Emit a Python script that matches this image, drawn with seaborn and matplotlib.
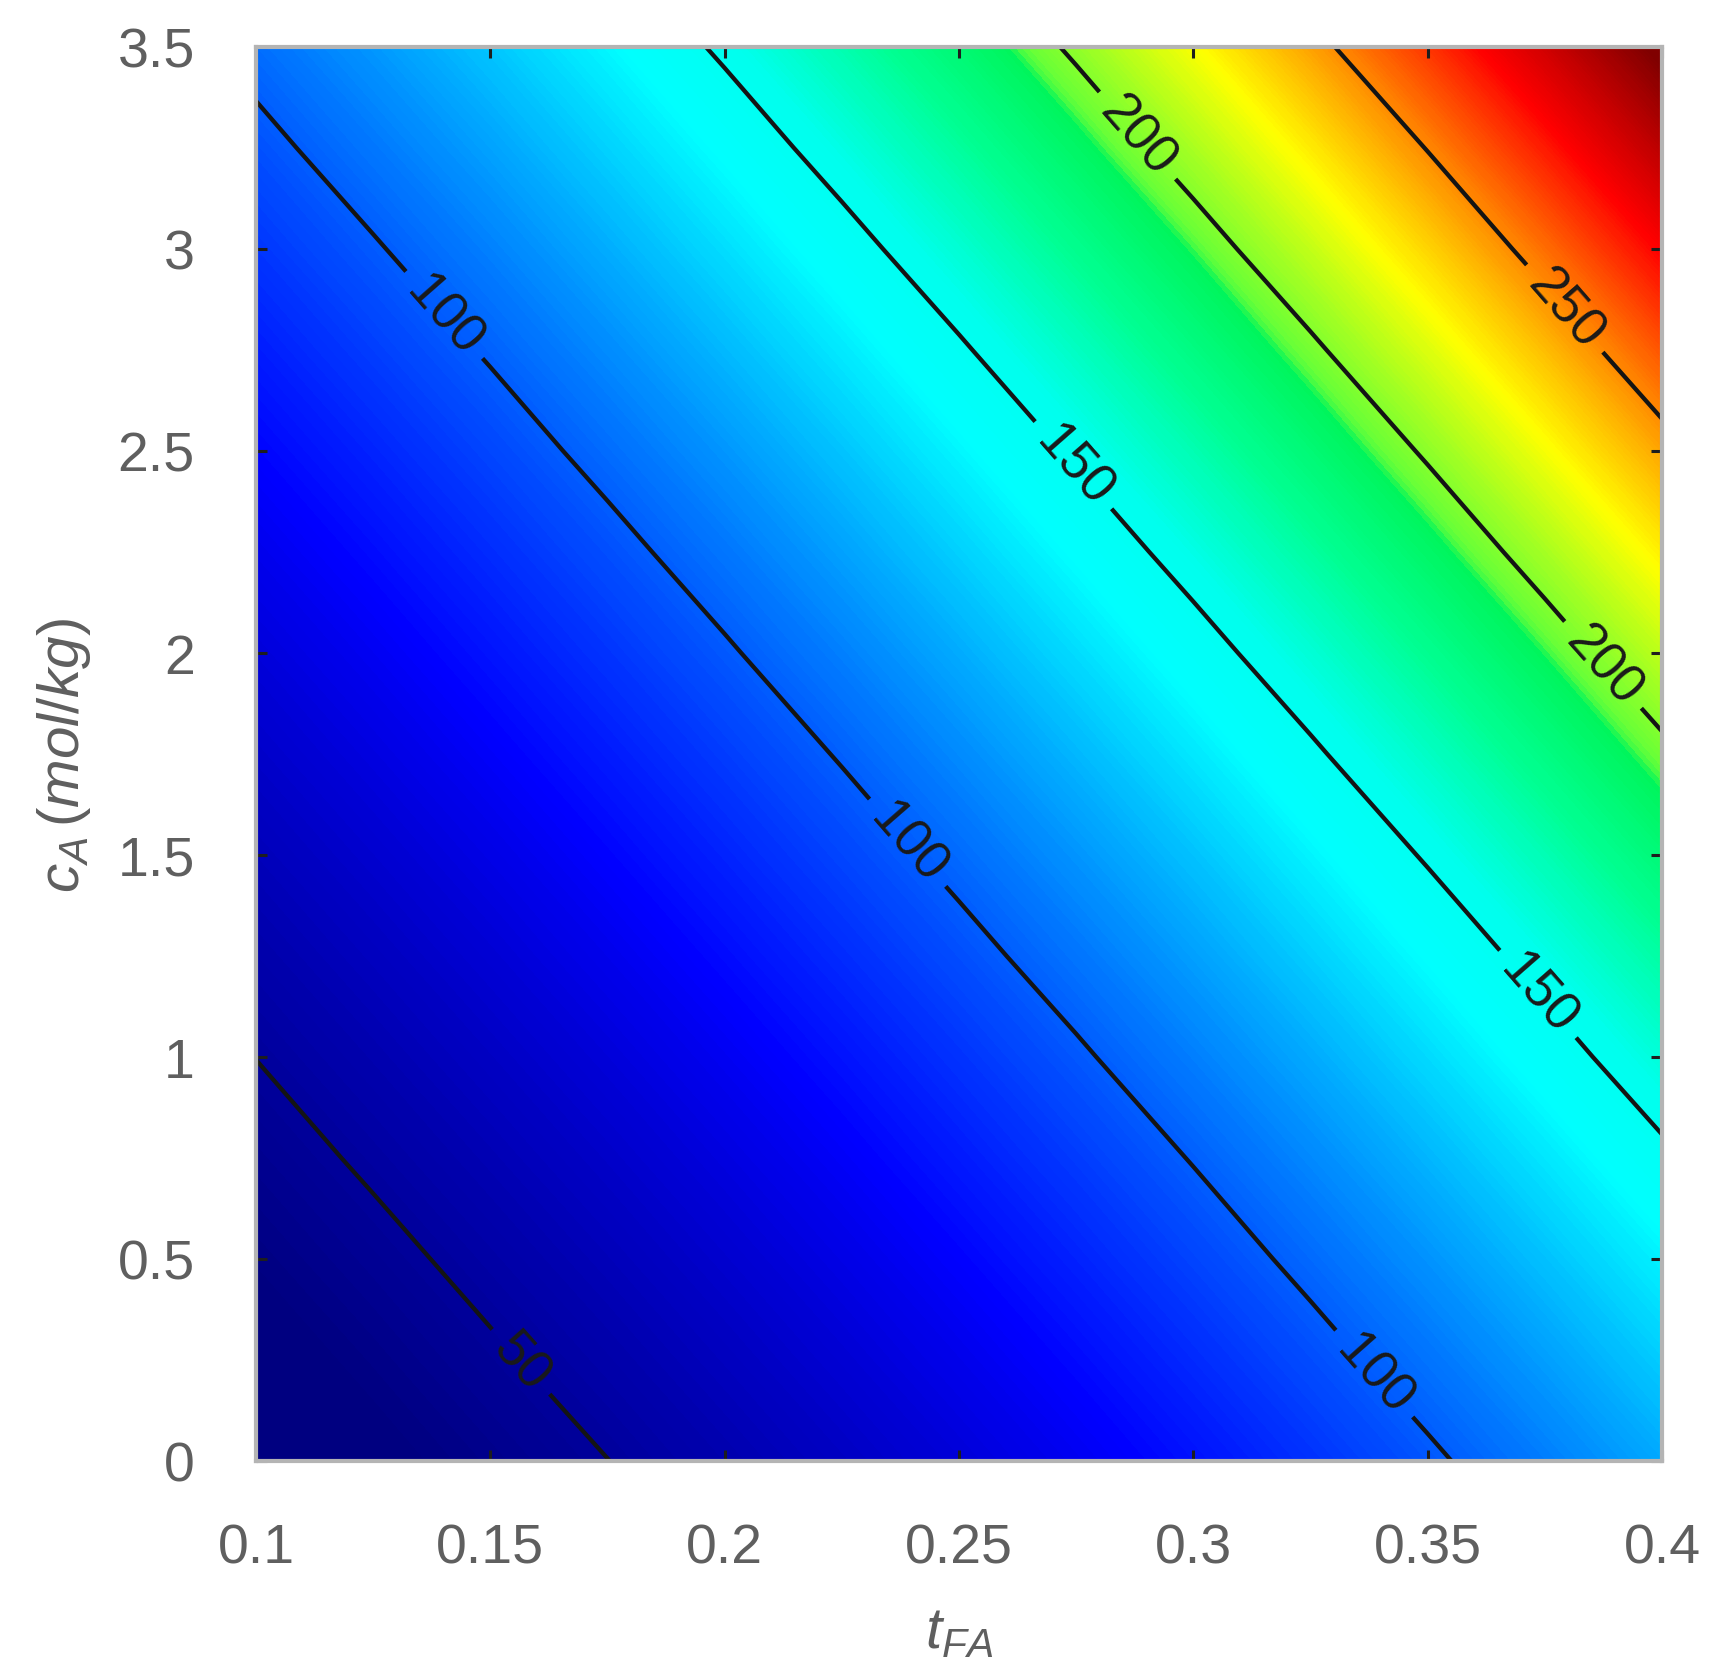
import numpy as np
import matplotlib
matplotlib.use("Agg")
import matplotlib.pyplot as plt
from matplotlib.colors import LinearSegmentedColormap
import seaborn as sns

# ---- values: surface on a t_FA x c_A grid ----
t_FA = [0.100, 0.125, 0.150, 0.175, 0.200, 0.225, 0.250,
        0.275, 0.300, 0.325, 0.350, 0.375, 0.400]
c_A = [0.00, 0.25, 0.50, 0.75, 1.00, 1.25, 1.50, 1.75,
       2.00, 2.25, 2.50, 2.75, 3.00, 3.25, 3.50]
z_c0_00 = [37.2, 41.1, 45.3, 49.9, 55.0, 60.6, 66.7, 73.5, 80.9, 89.0, 98.0, 107.8, 118.7]
z_c0_25 = [40.1, 44.2, 48.8, 53.7, 59.2, 65.2, 71.8, 79.0, 87.0, 95.8, 105.4, 116.0, 127.6]
z_c0_50 = [43.2, 47.6, 52.5, 57.8, 63.7, 70.1, 77.2, 85.0, 93.6, 103.0, 113.3, 124.7, 137.1]
z_c0_75 = [46.5, 51.3, 56.5, 62.2, 68.5, 75.4, 83.1, 91.4, 100.6, 110.7, 121.8, 134.0, 147.4]
z_c1_00 = [50.1, 55.2, 60.8, 66.9, 73.7, 81.1, 89.3, 98.3, 108.2, 119.0, 131.0, 144.1, 158.5]
z_c1_25 = [53.9, 59.4, 65.4, 72.0, 79.3, 87.3, 96.1, 105.7, 116.3, 128.0, 140.8, 154.8, 170.3]
z_c1_50 = [58.0, 63.9, 70.3, 77.5, 85.3, 93.9, 103.3, 113.7, 125.0, 137.6, 151.3, 166.4, 183.1]
z_c1_75 = [62.4, 68.7, 75.7, 83.3, 91.7, 100.9, 111.1, 122.2, 134.4, 147.9, 162.6, 178.9, 196.7]
z_c2_00 = [67.1, 73.9, 81.4, 89.6, 98.6, 108.5, 119.4, 131.4, 144.5, 158.9, 174.8, 192.3, 211.4]
z_c2_25 = [72.2, 79.5, 87.5, 96.3, 106.0, 116.7, 128.4, 141.2, 155.3, 170.8, 187.9, 206.6, 227.2]
z_c2_50 = [77.7, 85.5, 94.1, 103.6, 114.0, 125.4, 138.0, 151.8, 166.9, 183.6, 201.9, 222.1, 244.2]
z_c2_75 = [83.6, 92.0, 101.2, 111.4, 122.6, 134.8, 148.3, 163.1, 179.4, 197.3, 217.0, 238.6, 262.4]
z_c3_00 = [89.9, 98.9, 108.8, 119.8, 131.8, 144.9, 159.4, 175.4, 192.8, 212.1, 233.2, 256.4, 281.9]
z_c3_25 = [96.6, 106.4, 117.0, 128.8, 141.6, 155.8, 171.4, 188.5, 207.3, 227.9, 250.6, 275.5, 303.0]
z_c3_50 = [103.9, 114.4, 125.8, 138.4, 152.2, 167.5, 184.2, 202.5, 222.7, 244.9, 269.3, 296.1, 325.5]
contour_levels = [50, 100, 150, 200, 250]
x_ticks = [0.10, 0.15, 0.20, 0.25, 0.30, 0.35, 0.40]
x_tick_labels = ["0.1", "0.15", "0.2", "0.25", "0.3", "0.35", "0.4"]
y_ticks = [0.0, 0.5, 1.0, 1.5, 2.0, 2.5, 3.0, 3.5]
y_tick_labels = ["0", "0.5", "1", "1.5", "2", "2.5", "3", "3.5"]

# label anchor spots (layout, not data)
label_spots = [(0.156, 0.24), (0.1395, 2.83), (0.238, 1.52), (0.338, 0.21),
               (0.272, 2.44), (0.372, 1.14), (0.287, 3.27), (0.386, 1.956),
               (0.377, 2.83)]

# rainbow colour scale as seen in the reference (jet-like, saturated greens)
cmap_stops = [
    (0.000, (0.00, 0.00, 0.50)),
    (0.125, (0.00, 0.00, 1.00)),
    (0.350, (0.00, 1.00, 1.00)),
    (0.400, (0.00, 1.00, 0.93)),
    (0.470, (0.00, 1.00, 0.58)),
    (0.535, (0.00, 0.96, 0.36)),
    (0.545, (0.40, 1.00, 0.22)),
    (0.650, (1.00, 1.00, 0.00)),
    (0.855, (1.00, 0.00, 0.00)),
    (1.000, (0.50, 0.00, 0.00)),
]

sns.set_theme(style="white")
plt.rcParams["font.family"] = ["Liberation Sans", "DejaVu Sans"]
plt.rcParams["mathtext.fontset"] = "custom"
plt.rcParams["mathtext.it"] = "Liberation Sans:italic"
plt.rcParams["mathtext.rm"] = "Liberation Sans"

Z = np.array([z_c0_00, z_c0_25, z_c0_50, z_c0_75, z_c1_00, z_c1_25, z_c1_50,
              z_c1_75, z_c2_00, z_c2_25, z_c2_50, z_c2_75, z_c3_00, z_c3_25,
              z_c3_50])

cmap = LinearSegmentedColormap.from_list("ref_rainbow", cmap_stops, N=512)
cmap.set_under(cmap_stops[0][1])
cmap.set_over(cmap_stops[-1][1])

fig = plt.figure(figsize=(17.28, 16.81), dpi=100)
ax = fig.add_axes([256 / 1728, 1 - 1462 / 1681, 1406 / 1728, 1414 / 1681])
ax.set_axisbelow(False)

fill_levels = np.linspace(42, 322, 281)
ax.contourf(t_FA, c_A, Z, levels=fill_levels, cmap=cmap, extend="both",
            antialiased=False)
cs = ax.contour(t_FA, c_A, Z, levels=contour_levels, colors="#141414",
                linewidths=3.1)
ax.clabel(cs, fmt="%d", fontsize=38, manual=label_spots, inline=True,
          inline_spacing=14, colors="#1a1a1a")

ax.set_xlim(0.1, 0.4)
ax.set_ylim(0, 3.5)
ax.set_xticks(x_ticks)
ax.set_xticklabels(x_tick_labels)
ax.set_yticks(y_ticks)
ax.set_yticklabels(y_tick_labels)
ax.tick_params(direction="in", bottom=True, left=True, top=True, right=True,
               length=8, width=2.2, color="#1e1e1e", labelsize=40,
               labelcolor="#5f5f5f", pad=44)
for s in ax.spines.values():
    s.set_color("#b4b4b4")
    s.set_linewidth(3)
    s.set_zorder(5)

ax.set_xlabel(r"$t_{FA}$", fontsize=42, color="#5f5f5f", labelpad=22)
ax.set_ylabel(r"$c_A\,(mol/kg)$", fontsize=42, color="#5f5f5f", labelpad=18)

fig.savefig("out.png", dpi=100)
